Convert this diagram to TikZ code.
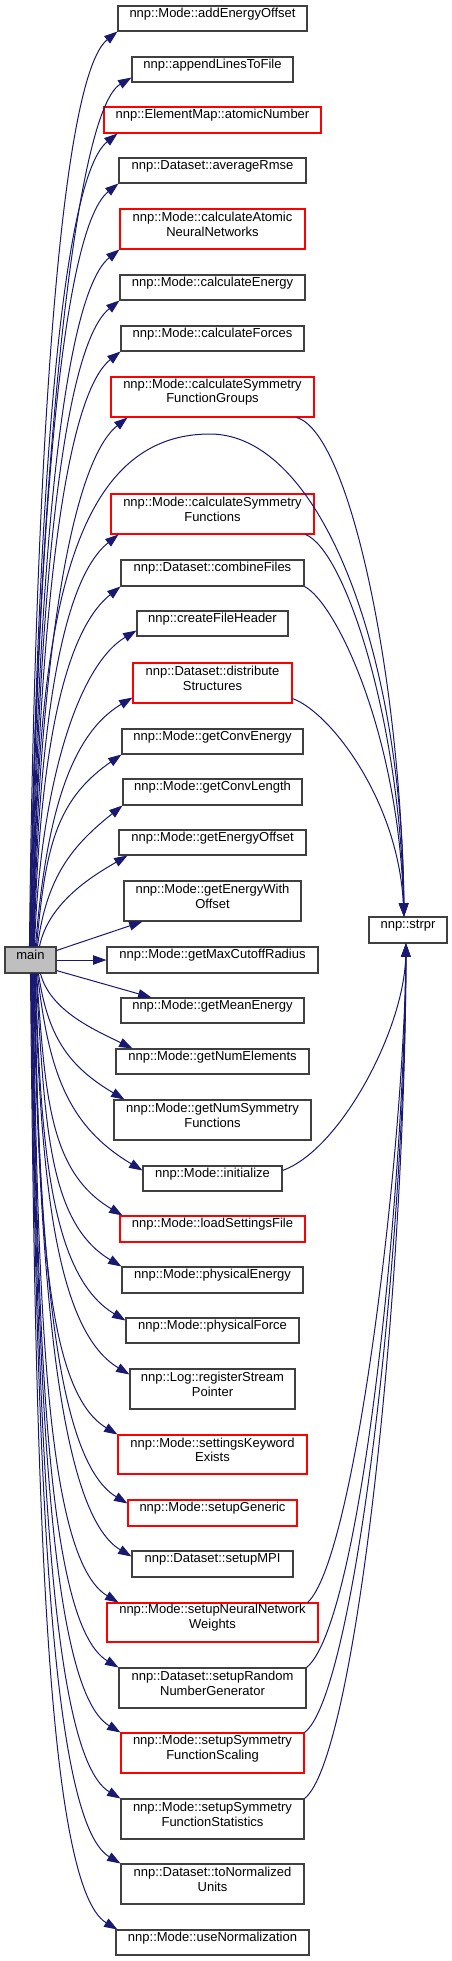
\documentclass[tikz,border=0pt]{standalone}
\usepackage{fontspec}
\newfontfamily\dxfont{Liberation Sans}
\usetikzlibrary{fit,calc,arrows.meta}
\definecolor{edgeblue}{HTML}{191970}
\definecolor{boxgray}{HTML}{404040}
\definecolor{boxred}{HTML}{FF0000}
\definecolor{maingray}{HTML}{BFBFBF}
\tikzset{
  nb/.style={draw=boxgray, line width=0.8pt, inner sep=0pt, align=center,
             font=\dxfont\fontsize{9.75}{11}\selectfont},
  rb/.style={nb, draw=boxred},
  edge/.style={draw=edgeblue, line width=0.75pt,
               -{Triangle[length=10pt,width=7pt]}, fill=none},
}
\begin{document}
\begin{tikzpicture}[x=0.75pt, y=-0.75pt]
\fill[white] (0,0) rectangle (452,1961);
\useasboundingbox (0,0) rectangle (452,1961);
\tikzset{every arrow/.style={}}
% nodes
\node[nb, fit={(118,6)(307,31)}] (n1) {nnp::Mode::addEnergyOffset};
\node[nb, fit={(132,57)(293,82)}] (n2) {nnp::appendLinesToFile};
\node[rb, fit={(104,107)(321,133)}] (n3) {nnp::ElementMap::atomicNumber};
\node[nb, fit={(119,158)(306,183)}] (n4) {nnp::Dataset::averageRmse};
\node[rb, fit={(120,209)(305,249)}] (n5) {nnp::Mode::calculateAtomic\\NeuralNetworks};
\node[nb, fit={(120,275)(305,300)}] (n6) {nnp::Mode::calculateEnergy};
\node[nb, fit={(121,326)(304,351)}] (n7) {nnp::Mode::calculateForces};
\node[rb, fit={(111,377)(314,417)}] (n8) {nnp::Mode::calculateSymmetry\\FunctionGroups};
\node[rb, fit={(111,494)(314,534)}] (n9) {nnp::Mode::calculateSymmetry\\Functions};
\node[nb, fit={(121,560)(304,586)}] (n10) {nnp::Dataset::combineFiles};
\node[nb, fit={(137,611)(288,636)}] (n11) {nnp::createFileHeader};
\node[rb, fit={(133,663)(292,703)}] (n12) {nnp::Dataset::distribute\\Structures};
\node[nb, fit={(122,729)(303,754)}] (n13) {nnp::Mode::getConvEnergy};
\node[nb, fit={(123,779)(302,805)}] (n14) {nnp::Mode::getConvLength};
\node[nb, fit={(119,830)(306,855)}] (n15) {nnp::Mode::getEnergyOffset};
\node[nb, fit={(124,881)(301,921)}] (n16) {nnp::Mode::getEnergyWith\\Offset};
\node[nb, fit={(107,947)(318,973)}] (n17) {nnp::Mode::getMaxCutoffRadius};
\node[nb, fit={(121,998)(304,1023)}] (n18) {nnp::Mode::getMeanEnergy};
\node[nb, fit={(116,1049)(309,1074)}] (n19) {nnp::Mode::getNumElements};
\node[nb, fit={(114,1100)(311,1140)}] (n20) {nnp::Mode::getNumSymmetry\\Functions};
\node[nb, fit={(143,1166)(282,1191)}] (n21) {nnp::Mode::initialize};
\node[rb, fit={(120,1216)(305,1242)}] (n22) {nnp::Mode::loadSettingsFile};
\node[nb, fit={(122,1267)(303,1293)}] (n23) {nnp::Mode::physicalEnergy};
\node[nb, fit={(126,1318)(299,1343)}] (n24) {nnp::Mode::physicalForce};
\node[nb, fit={(130,1369)(295,1409)}] (n25) {nnp::Log::registerStream\\Pointer};
\node[rb, fit={(118,1435)(307,1474)}] (n26) {nnp::Mode::settingsKeyword\\Exists};
\node[rb, fit={(128,1500)(297,1526)}] (n27) {nnp::Mode::setupGeneric};
\node[nb, fit={(132,1551)(293,1577)}] (n28) {nnp::Dataset::setupMPI};
\node[rb, fit={(107,1603)(318,1642)}] (n29) {nnp::Mode::setupNeuralNetwork\\Weights};
\node[nb, fit={(119,1668)(306,1708)}] (n30) {nnp::Dataset::setupRandom\\NumberGenerator};
\node[rb, fit={(121,1733)(304,1773)}] (n31) {nnp::Mode::setupSymmetry\\FunctionScaling};
\node[nb, fit={(121,1799)(304,1839)}] (n32) {nnp::Mode::setupSymmetry\\FunctionStatistics};
\node[nb, fit={(121,1864)(304,1904)}] (n33) {nnp::Dataset::toNormalized\\Units};
\node[nb, fit={(116,1930)(309,1955)}] (n34) {nnp::Mode::useNormalization};
\node[nb, fill=maingray, fit={(5,947)(56,973)}] (main) {main};
\node[nb, fit={(369,917)(447,943)}] (strpr) {nnp::strpr};
% edges main -> upper nodes
\draw[edge] ($(main.north west)+(25,0)$) .. controls (34.4,489) and (58,79) .. (n1.south west);
\draw[edge] ($(main.north west)+(25.5,0)$) .. controls (35.6,512) and (72,113) .. ($(n2.south west)+(0,-5)$);
\draw[edge] ($(main.north west)+(26,0)$) .. controls (35.4,540) and (58,181) .. ($(n3.south west)+(14,0)$);
\draw[edge] ($(main.north west)+(26.5,0)$) .. controls (35.9,565) and (59,231) .. (n4.south west);
\draw[edge] ($(main.north west)+(27,0)$) .. controls (36.4,598) and (60,297) .. (n5.south west);
\draw[edge] ($(main.north west)+(27.5,0)$) .. controls (36.9,623) and (60,348) .. (n6.south west);
\draw[edge] ($(main.north west)+(28,0)$) .. controls (37.4,649) and (61,399) .. (n7.south west);
\draw[edge] ($(main.north west)+(28.5,0)$) .. controls (38.2,682) and (68,465) .. ($(n8.south west)+(17,0)$);
\draw[edge] ($(main.north west)+(29,0)$) .. controls (38.3,740) and (59,582) .. ($(n9.south west)+(8,0)$);
\draw[edge] ($(main.north west)+(29.5,0)$) .. controls (38.8,766) and (61,634) .. (n10.south west);
\draw[edge] ($(main.north west)+(30,0)$) .. controls (40,788) and (77,666) .. ($(n11.south west)+(0,-6)$);
\draw[edge] ($(main.north west)+(31,0)$) .. controls (45.7,822) and (68,736) .. ($(n12.south west)+(0,-6)$);
\draw[edge] ($(main.north west)+(32,0)$) .. controls (45.5,850) and (54.5,801) .. (n13.south west);
\draw[edge] ($(main.north west)+(33,0)$) .. controls (46.5,876) and (73,845) .. (n14.south west);
\draw[edge] ($(main.north west)+(35,0)$) .. controls (48.8,901) and (96,874) .. ($(n15.south west)+(9,0)$);
\draw[edge] ($(main.north east)+(0,4)$) -- ($(n16.south west)+(19,0)$);
\draw[edge] (main.east) -- (n17.west);
\draw[edge] ($(main.south east)+(0,-3)$) -- ($(n18.north west)+(31,0)$);
% edges main -> lower nodes
\draw[edge] ($(main.south west)+(36,0)$) .. controls (50.2,1011) and (95,1030) .. ($(n19.north west)+(17,0)$);
\draw[edge] ($(main.south west)+(34,0)$) .. controls (47.6,1036) and (68,1066) .. ($(n20.north west)+(11,0)$);
\draw[edge] ($(main.south west)+(33,0)$) .. controls (48.5,1072) and (68,1126) .. ($(n21.north west)+(0,5)$);
\draw[edge] ($(main.south west)+(32,0)$) .. controls (45.6,1094) and (48,1171) .. ($(n22.north west)+(3,0)$);
\draw[edge] ($(main.south west)+(31.5,0)$) .. controls (45,1120) and (47,1222) .. (n23.north west);
\draw[edge] ($(main.south west)+(31,0)$) .. controls (40.5,1147) and (51,1276) .. ($(n24.north west)+(0,3)$);
\draw[edge] ($(main.south west)+(30.5,0)$) .. controls (40.2,1174) and (55,1330) .. ($(n25.north west)+(0,6)$);
\draw[edge] ($(main.south west)+(30,0)$) .. controls (39.2,1204) and (43,1390) .. (n26.north west);
\draw[edge] ($(main.south west)+(29.5,0)$) .. controls (39.2,1238) and (53,1459) .. ($(n27.north west)+(0,4)$);
\draw[edge] ($(main.south west)+(29,0)$) .. controls (38.9,1265) and (57,1512) .. ($(n28.north west)+(0,6)$);
\draw[edge] ($(main.south west)+(28.5,0)$) .. controls (37.8,1288) and (44,1558) .. ($(n29.north west)+(12,0)$);
\draw[edge] ($(main.south west)+(28,0)$) .. controls (37.3,1320) and (44,1623) .. (n30.north west);
\draw[edge] ($(main.south west)+(27.5,0)$) .. controls (36.9,1353) and (46,1688) .. (n31.north west);
\draw[edge] ($(main.south west)+(27,0)$) .. controls (36.5,1386) and (46,1754) .. (n32.north west);
\draw[edge] ($(main.south west)+(26.5,0)$) .. controls (36,1418) and (46,1819) .. (n33.north west);
\draw[edge] ($(main.south west)+(26,0)$) .. controls (35.4,1451) and (43,1885) .. ($(n34.north west)+(2,0)$);
% edges -> strpr from above
\draw[edge] ($(main.north west)+(29,0)$) .. controls (36,650) and (60,434) .. (210,434) .. controls (320,434) and (402,650) .. ($(strpr.north)+(-4,0)$);
\draw[edge] ($(n8.south east)+(-18,0)$) .. controls (350,432) and (401,680) .. ($(strpr.north)+(-4,0)$);
\draw[edge] ($(n9.south east)+(-9,0)$) .. controls (345,550) and (400,720) .. ($(strpr.north)+(-4,0)$);
\draw[edge] (n10.south east) .. controls (335,602) and (398,730) .. ($(strpr.north)+(-4,0)$);
\draw[edge] ($(n12.south east)+(0,-5)$) .. controls (330,712) and (398,800) .. ($(strpr.north)+(-4,0)$);
% edges -> strpr from below
\draw[edge] ($(n21.north east)+(0,5)$) .. controls (340,1150) and (404,1030) .. ($(strpr.south)+(-2,0)$);
\draw[edge] ($(n29.north east)+(-11,0)$) .. controls (355,1560) and (404,1150) .. ($(strpr.south)+(-2,0)$);
\draw[edge] (n30.north east) .. controls (360,1625) and (404,1200) .. ($(strpr.south)+(-2,0)$);
\draw[edge] (n31.north east) .. controls (355,1695) and (405,1250) .. ($(strpr.south)+(-2,0)$);
\draw[edge] (n32.north east) .. controls (355,1760) and (405,1300) .. ($(strpr.south)+(-2,0)$);
\end{tikzpicture}
\end{document}
